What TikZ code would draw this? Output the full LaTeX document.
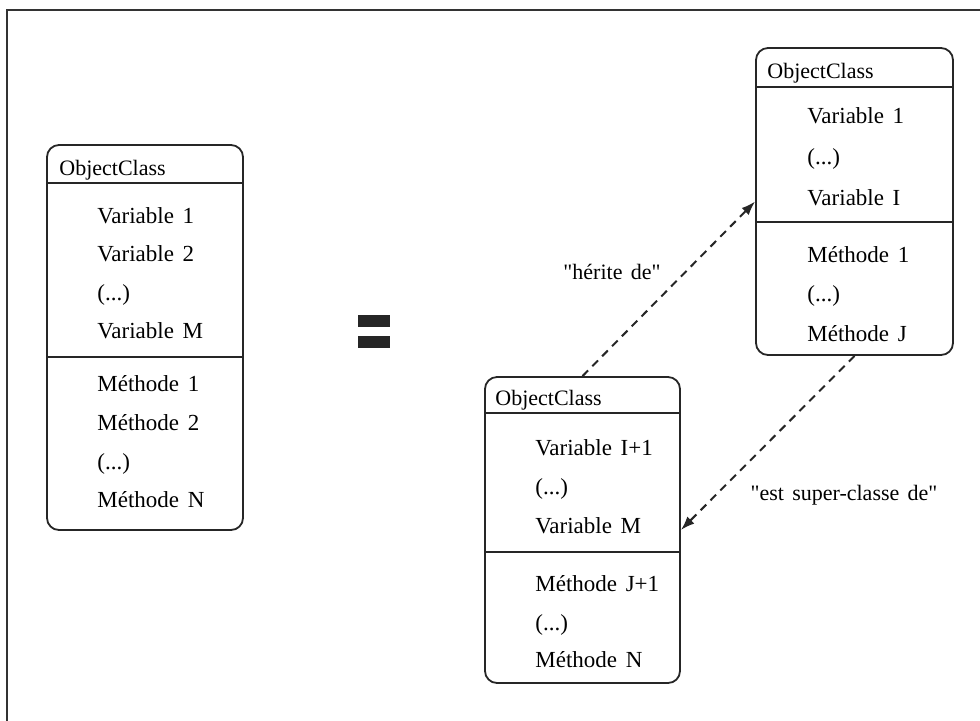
\documentclass[tikz,border=0pt]{standalone}
\usepackage{fontspec}
\setmainfont{Liberation Serif}[Ligatures=TeXOff]
\newfontfamily\memberfont{Liberation Serif}[Ligatures=TeXOff, WordSpace=1.5]
\usetikzlibrary{arrows.meta}

\tikzset{
	classbox/.style={draw=black!85, line width=0.9pt, rounded corners=6pt, inner sep=0pt},
	title/.style={anchor=base west, inner sep=0pt, font=\fontsize{11}{13}\selectfont},
	member/.style={anchor=base west, inner sep=0pt, font=\memberfont\fontsize{11.5}{13}\selectfont},
	relname/.style={anchor=base, inner sep=0pt, font=\fontsize{11}{13}\selectfont},
	herit/.style={draw=black!85, dash pattern=on 4pt off 3pt, line width=1pt, -{Latex[length=7pt,width=5pt]}}
}

\begin{document}
\begin{tikzpicture}[x=0.5pt, y=-0.5pt]
	% page and frame
	\useasboundingbox (0,0) rectangle (980,720);
	\clip (0,0) rectangle (980,720);
	\fill[white] (0,0) rectangle (980,720);
	\draw[line width=1pt, black!80] (7,10) rectangle (1000,740);
	% whole class (left)
	\node[classbox, minimum width=98pt, minimum height=192.5pt] (whole) at (145,337.5) {};
	\draw[line width=0.9pt, black!85] (47,183) -- (243,183);
	\draw[line width=0.9pt, black!85] (47,357) -- (243,357);
	\node[title] (wholetitle) at (59,175) {ObjectClass};
	\node[member] (wholev1) at (97,223) {Variable 1};
	\node[member] (wholev2) at (97,261) {Variable 2};
	\node[member] (wholevd) at (97,300) {(...)};
	\node[member] (wholevm) at (97,338) {Variable M};
	\node[member] (wholem1) at (97,391) {Méthode 1};
	\node[member] (wholem2) at (97,430) {Méthode 2};
	\node[member] (wholemd) at (97,469) {(...)};
	\node[member] (wholemn) at (97,507) {Méthode N};
	% equal sign
	\fill[black!85] (358,315) rectangle (390,327);
	\fill[black!85] (358,336) rectangle (390,348);
	% parent class (top right)
	\node[classbox, minimum width=98.5pt, minimum height=153.5pt] (parent) at (854.5,201.5) {};
	\draw[line width=0.9pt, black!85] (756,87) -- (953,87);
	\draw[line width=0.9pt, black!85] (756,222) -- (953,222);
	\node[title] (parenttitle) at (767,78) {ObjectClass};
	\node[member] (parentv1) at (807,123) {Variable 1};
	\node[member] (parentvd) at (807,164) {(...)};
	\node[member] (parentvi) at (807,205) {Variable I};
	\node[member] (parentm1) at (807,262) {Méthode 1};
	\node[member] (parentmd) at (807,301) {(...)};
	\node[member] (parentmj) at (807,341) {Méthode J};
	% child class (bottom)
	\node[classbox, minimum width=97.5pt, minimum height=153pt] (child) at (582.5,530) {};
	\draw[line width=0.9pt, black!85] (485,413) -- (680,413);
	\draw[line width=0.9pt, black!85] (485,552) -- (680,552);
	\node[title] (childtitle) at (495,405) {ObjectClass};
	\node[member] (childv1) at (535,455) {Variable I+1};
	\node[member] (childvd) at (535,494) {(...)};
	\node[member] (childvm) at (535,533) {Variable M};
	\node[member] (childm1) at (535,591) {Méthode J+1};
	\node[member] (childmd) at (535,630) {(...)};
	\node[member] (childmn) at (535,667) {Méthode N};
	% relations
	\draw[herit] (child.north) -- (parent.west);
	\draw[herit] (parent.south) -- (child.east);
	\node[relname] (heritede) at (612,279) {"hérite de"};
	\node[relname] (superde) at (844,500) {"est super-classe de"};
\end{tikzpicture}
\end{document}
